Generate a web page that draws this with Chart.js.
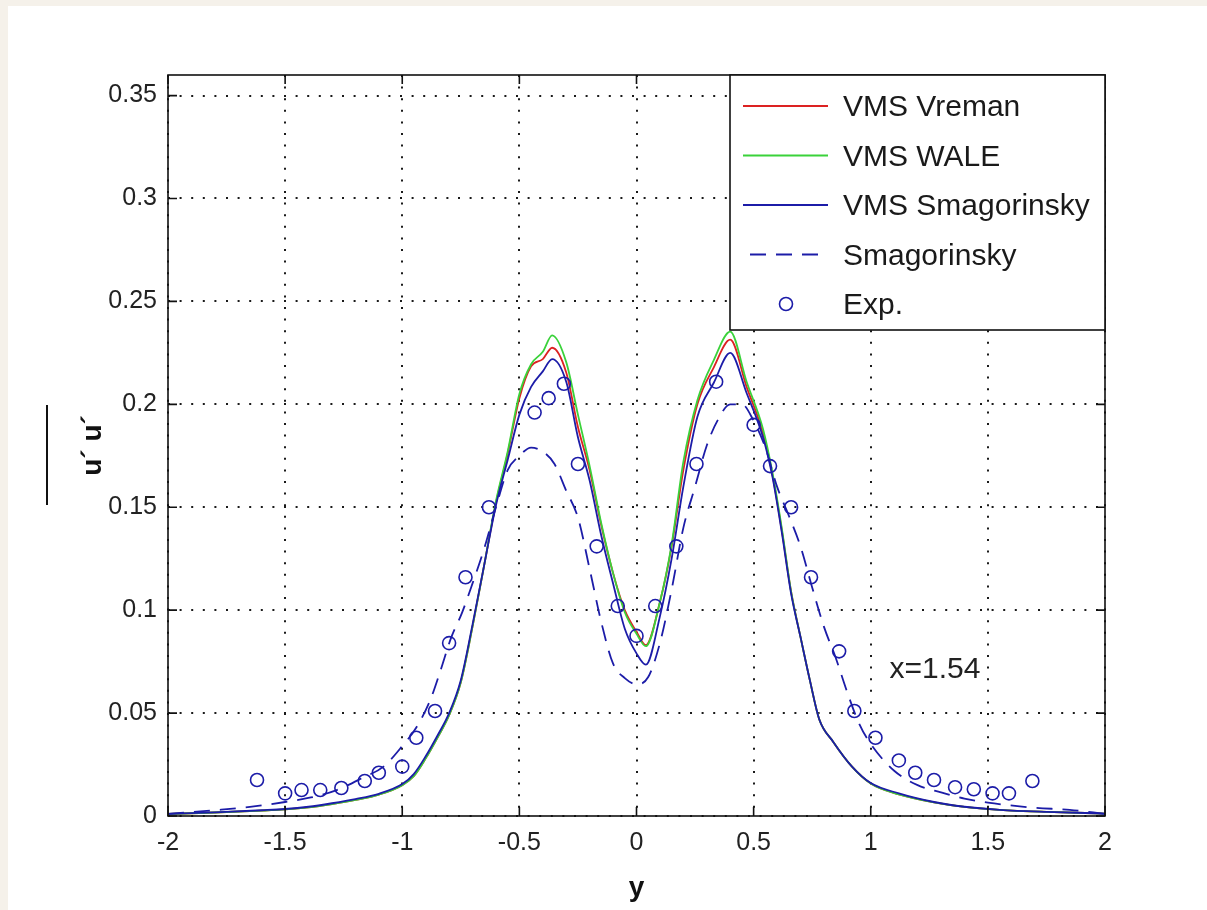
<!DOCTYPE html>
<html>
<head>
<meta charset="utf-8">
<script src="https://cdn.jsdelivr.net/npm/chart.js@4.4.0/dist/chart.umd.min.js"></script>
<style>
  html, body { margin: 0; padding: 0; background: #f5f1ea; }
  #sheet { position: absolute; left: 8px; top: 6px; width: 1199px; height: 904px; background: #fff; }
  #wrap { position: absolute; left: 0; top: 0; width: 1207px; height: 910px; }
</style>
</head>
<body>
<div id="sheet"></div>
<div id="wrap"><canvas id="chart" width="1207" height="910"></canvas></div>
<script>
'use strict';

// tick labels
const xTicks = [-2, -1.5, -1, -0.5, 0, 0.5, 1, 1.5, 2];
const yTicks = [0, 0.05, 0.1, 0.15, 0.2, 0.25, 0.3, 0.35];

// the three VMS runs share one y grid
const lesX = [-2, -1.8, -1.6, -1.5, -1.4, -1.3, -1.2, -1.1, -1.0, -0.95, -0.9, -0.85, -0.8, -0.75,
  -0.7, -0.65, -0.6, -0.55, -0.5, -0.45, -0.4, -0.36, -0.3, -0.25, -0.2, -0.15, -0.1, -0.05,
  0, 0.04, 0.1, 0.15, 0.2, 0.26, 0.33, 0.4, 0.47, 0.54, 0.58, 0.62, 0.66, 0.7, 0.74, 0.78,
  0.84, 0.92, 1.0, 1.12, 1.27, 1.4, 1.55, 1.75, 2];
const vremanY = [0.001, 0.0017, 0.0026, 0.0032, 0.0042, 0.0058, 0.0078, 0.0104, 0.015, 0.0195, 0.028, 0.038, 0.049, 0.065,
  0.092, 0.122, 0.152, 0.176, 0.203, 0.2185, 0.222, 0.2275, 0.2155, 0.189, 0.168, 0.141, 0.118, 0.1,
  0.0895, 0.083, 0.104, 0.131, 0.168, 0.2, 0.218, 0.2314, 0.2085, 0.186, 0.166, 0.139, 0.109, 0.087, 0.066, 0.047,
  0.036, 0.024, 0.0158, 0.0105, 0.0066, 0.0044, 0.003, 0.002, 0.0012];
const waleY = [0.001, 0.0017, 0.0026, 0.0032, 0.0042, 0.0058, 0.0078, 0.0104, 0.015, 0.0195, 0.028, 0.038, 0.049, 0.065,
  0.092, 0.122, 0.153, 0.177, 0.205, 0.2195, 0.2255, 0.2335, 0.2205, 0.195, 0.17, 0.142, 0.118, 0.099,
  0.0885, 0.0825, 0.104, 0.132, 0.172, 0.202, 0.2215, 0.2353, 0.211, 0.188, 0.167, 0.14, 0.109, 0.087, 0.066, 0.047,
  0.036, 0.024, 0.0158, 0.0105, 0.0066, 0.0044, 0.003, 0.002, 0.0012];
const vmsSmagY = [0.001, 0.0018, 0.0028, 0.0034, 0.0045, 0.0062, 0.0082, 0.0108, 0.0155, 0.0205, 0.029, 0.039, 0.05, 0.066,
  0.093, 0.122, 0.151, 0.173, 0.195, 0.2085, 0.216, 0.222, 0.211, 0.184, 0.163, 0.136, 0.113, 0.091,
  0.079, 0.0735, 0.097, 0.125, 0.16, 0.194, 0.2105, 0.225, 0.2055, 0.184, 0.165, 0.138, 0.108, 0.087, 0.066, 0.047,
  0.036, 0.024, 0.016, 0.011, 0.0068, 0.0045, 0.003, 0.002, 0.0012];

// plain Smagorinsky (dashed)
const smagX = [-2, -1.8, -1.65, -1.5, -1.39, -1.28, -1.17, -1.08, -1.0, -0.94, -0.88, -0.84, -0.79, -0.745,
  -0.7, -0.65, -0.6, -0.55, -0.5, -0.45, -0.4, -0.35, -0.3, -0.25, -0.2, -0.15, -0.1, -0.05,
  0, 0.05, 0.1, 0.15, 0.2, 0.25, 0.3, 0.35, 0.4, 0.45, 0.5, 0.55, 0.6, 0.65, 0.7, 0.75,
  0.8, 0.85, 0.9, 0.95, 1.0, 1.1, 1.2, 1.3, 1.4, 1.5, 1.7, 1.85, 2];
const smagY = [0.001, 0.0028, 0.0044, 0.0068, 0.009, 0.0126, 0.0185, 0.024, 0.034, 0.043, 0.0565, 0.0695, 0.087, 0.0987,
  0.113, 0.13, 0.15, 0.168, 0.175, 0.179, 0.177, 0.171, 0.158, 0.145, 0.12, 0.094, 0.074, 0.067,
  0.064, 0.0675, 0.084, 0.11, 0.14, 0.16, 0.18, 0.193, 0.2, 0.2, 0.192, 0.179, 0.16, 0.146, 0.131, 0.111,
  0.092, 0.077, 0.06, 0.045, 0.035, 0.022, 0.015, 0.0115, 0.0085, 0.0065, 0.004, 0.003, 0.001];

// experiment
const expX = [-1.62, -1.5, -1.43, -1.35, -1.26, -1.16, -1.1, -1.0, -0.94, -0.86, -0.8, -0.73, -0.63,
  -0.435, -0.375, -0.31, -0.25, -0.17, -0.08, 0, 0.08, 0.17, 0.256, 0.34, 0.5, 0.57, 0.66, 0.745,
  0.865, 0.93, 1.02, 1.12, 1.19, 1.27, 1.36, 1.44, 1.52, 1.59, 1.69];
const expY = [0.0175, 0.011, 0.0126, 0.0126, 0.0136, 0.017, 0.021, 0.024, 0.038, 0.051, 0.084, 0.116, 0.15,
  0.196, 0.203, 0.21, 0.171, 0.131, 0.102, 0.0875, 0.102, 0.131, 0.171, 0.211, 0.19, 0.17, 0.15, 0.116,
  0.08, 0.051, 0.038, 0.027, 0.021, 0.0175, 0.014, 0.013, 0.011, 0.011, 0.017];

const note = 'x=1.54';

const FONT = '"Liberation Sans", Arial, sans-serif';
const RED = '#dc2222';
const GREEN = '#3ad23a';
const BLUE = '#1c1ca8';

function pairs(xs, ys) {
  let out = [];
  for (let i = 0; i < xs.length; i++) {
    out.push({ x: xs[i], y: ys[i] });
  }
  return out;
}

function lineSet(label, xs, ys, color, dash, order) {
  return {
    label: label,
    data: pairs(xs, ys),
    borderColor: color,
    backgroundColor: color,
    borderWidth: 1.8,
    borderDash: dash,
    pointRadius: 0,
    fill: false,
    cubicInterpolationMode: 'monotone',
    order: order
  };
}

// frame, inward ticks, overline, note and legend box
const decor = {
  id: 'decor',
  afterDatasetsDraw(chart) {
    const ctx = chart.ctx;
    const a = chart.chartArea;
    const sx = chart.scales.x;
    const sy = chart.scales.y;
    ctx.save();
    ctx.strokeStyle = '#111';
    ctx.lineWidth = 1.6;
    ctx.strokeRect(a.left, a.top, a.right - a.left, a.bottom - a.top);
    ctx.beginPath();
    xTicks.forEach(v => {
      const px = sx.getPixelForValue(v);
      ctx.moveTo(px, a.bottom); ctx.lineTo(px, a.bottom - 9);
      ctx.moveTo(px, a.top); ctx.lineTo(px, a.top + 9);
    });
    yTicks.forEach(v => {
      const py = sy.getPixelForValue(v);
      ctx.moveTo(a.left, py); ctx.lineTo(a.left + 9, py);
      ctx.moveTo(a.right, py); ctx.lineTo(a.right - 9, py);
    });
    ctx.stroke();

    // overline of the y label
    ctx.lineWidth = 2;
    ctx.beginPath();
    ctx.moveTo(47, 405); ctx.lineTo(47, 505);
    ctx.stroke();

    // station note
    ctx.fillStyle = '#222';
    ctx.font = '30px ' + FONT;
    ctx.textBaseline = 'middle';
    ctx.textAlign = 'left';
    ctx.fillText(note, sx.getPixelForValue(1.08), sy.getPixelForValue(0.071));

    // legend
    const lx = 730, ly = a.top, lw = a.right - 730, lh = 255;
    ctx.fillStyle = '#fff';
    ctx.fillRect(lx, ly, lw, lh);
    ctx.lineWidth = 1.6;
    ctx.strokeStyle = '#111';
    ctx.strokeRect(lx, ly, lw, lh);
    chart.data.datasets.forEach((ds, i) => {
      const y = ly + 31 + i * 49.5;
      ctx.strokeStyle = ds.borderColor;
      ctx.lineWidth = ds.borderWidth;
      if (ds.showLine === false) {
        ctx.setLineDash([]);
        ctx.beginPath();
        ctx.arc(lx + 56, y, ds.pointRadius, 0, Math.PI * 2);
        ctx.stroke();
      } else {
        ctx.setLineDash(ds.borderDash || []);
        ctx.beginPath();
        ctx.moveTo(lx + (ds.borderDash && ds.borderDash.length ? 20 : 13), y);
        ctx.lineTo(lx + 98, y);
        ctx.stroke();
      }
      ctx.setLineDash([]);
      ctx.fillStyle = '#1a1a1a';
      ctx.fillText(ds.label, lx + 113, y + 2);
    });
    ctx.restore();
  }
};

function renderChart() {
  const ctx = document.getElementById('chart');
  const config = {
    type: 'line',
    data: {
      datasets: [
        lineSet('VMS Vreman', lesX, vremanY, RED, [], 5),
        lineSet('VMS WALE', lesX, waleY, GREEN, [], 4),
        lineSet('VMS Smagorinsky', lesX, vmsSmagY, BLUE, [], 3),
        lineSet('Smagorinsky', smagX, smagY, BLUE, [16, 10], 2),
        {
          label: 'Exp.',
          data: pairs(expX, expY),
          showLine: false,
          pointRadius: 6.5,
          pointBorderWidth: 1.6,
          pointBorderColor: BLUE,
          pointBackgroundColor: 'rgba(0,0,0,0)',
          borderColor: BLUE,
          borderWidth: 1.6,
          order: 1
        }
      ]
    },
    options: {
      responsive: false,
      animation: false,
      events: [],
      layout: { padding: { left: 0, top: 75, right: 102, bottom: 0 } },
      plugins: { legend: { display: false }, tooltip: { enabled: false } },
      scales: {
        x: {
          type: 'linear',
          min: -2,
          max: 2,
          afterBuildTicks: s => { s.ticks = xTicks.map(v => ({ value: v })); },
          afterFit: s => { s.height = 94; },
          ticks: {
            callback: v => String(v),
            font: { family: FONT, size: 25 },
            color: '#222',
            padding: 12,
            maxRotation: 0,
            autoSkip: false
          },
          grid: { color: '#1a1a1a', lineWidth: 2, drawTicks: false },
          border: { display: false, dash: [2, 9.6] },
          title: {
            display: true,
            text: 'y',
            font: { family: FONT, size: 28, weight: 'bold' },
            color: '#111',
            padding: { top: 0, bottom: 5 }
          }
        },
        y: {
          type: 'linear',
          min: 0,
          max: 0.36,
          afterBuildTicks: s => { s.ticks = yTicks.map(v => ({ value: v })); },
          afterFit: s => { s.width = 168; },
          ticks: {
            callback: v => String(v),
            font: { family: FONT, size: 25 },
            color: '#222',
            padding: 11
          },
          grid: { color: '#1a1a1a', lineWidth: 2, drawTicks: false },
          border: { display: false, dash: [2, 9.6] },
          title: {
            display: true,
            text: 'u\u00b4 u\u00b4',
            font: { family: FONT, size: 28, weight: 'bold' },
            color: '#111',
            padding: { top: 76, bottom: 0 }
          }
        }
      }
    },
    plugins: [decor]
  };
  new Chart(ctx, config);
}

renderChart();
</script>
</body>
</html>
